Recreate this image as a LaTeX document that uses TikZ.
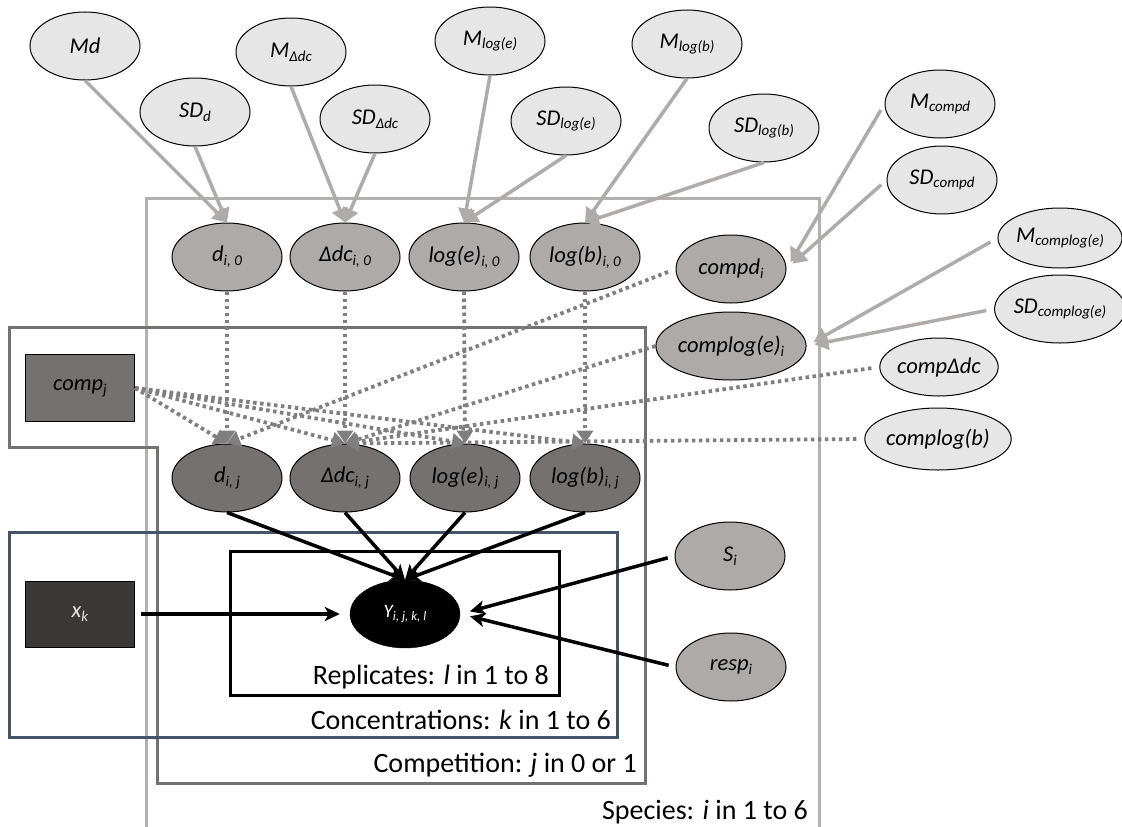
\documentclass[tikz,border=0pt]{standalone}
\usepackage{fontspec}
\setmainfont{Carlito}
\usepackage{tikz}
\usetikzlibrary{arrows.meta, positioning, shapes.geometric}
\definecolor{priorfill}{HTML}{E7E6E6}
\definecolor{paramfill}{HTML}{AEAAAA}
\definecolor{efffill}{HTML}{767171}
\definecolor{datafill}{HTML}{3B3838}
\definecolor{hypergray}{HTML}{AFABAB}
\definecolor{linkgray}{HTML}{7F7F7F}
\definecolor{speciesline}{HTML}{B4B0B0}
\definecolor{compline}{HTML}{767171}
\definecolor{concline}{HTML}{44546A}
\newcommand{\lblfont}{\fontsize{22.5}{24}\selectfont\itshape}
\newcommand{\lsub}[1]{\raisebox{-0.35ex}{\fontsize{15}{16}\selectfont #1}}
\tikzset{
    priornode/.style={
        ellipse, draw=black, line width=1pt, fill=priorfill,
        minimum width=110pt, minimum height=68pt, inner sep=0pt,
        font=\lblfont
    },
    paramnode/.style={
        priornode, fill=paramfill
    },
    effnode/.style={
        priornode, fill=efffill
    },
    datanode/.style={
        rectangle, draw=black, line width=1pt, fill=#1,
        minimum width=109pt, minimum height=67pt, font=\lblfont
    },
    obsnode/.style={
        ellipse, draw=black, fill=black, text=white,
        minimum width=110pt, minimum height=68pt, inner sep=0pt,
        font=\fontsize{19}{21}\selectfont\itshape
    },
    platelab/.style={
        font=\fontsize{28}{30}\selectfont, inner sep=0pt, anchor=east
    },
    hyperarrow/.style={
        -{Triangle[length=14pt, width=16pt]}, line width=3.5pt, color=hypergray
    },
    linkarrow/.style={
        -{Triangle[length=13pt, width=16pt]}, line width=3.8pt, color=linkgray,
        dash pattern=on 3.5pt off 3.5pt
    },
    obsarrow/.style={
        -{Stealth[length=15pt, width=14pt, inset=4pt]}, line width=3.5pt, color=black
    },
}

\begin{document}
\begin{tikzpicture}[x=1pt, y=-1pt]
    \useasboundingbox (0,0) rectangle (1122,827);

    % plates
    \draw[speciesline, line width=3pt] (146,827) -- (146,198) -- (819,198) -- (819,827);
    \draw[compline, line width=3pt] (9,327) -- (645,327) -- (645,783) -- (157,783) -- (157,447) -- (9,447) -- cycle;
    \draw[concline, line width=3pt] (9,532) rectangle (617,737);
    \draw[black, line width=3pt] (230,551) rectangle (559,695);

    \node[platelab] (replab) at (549,677) {Replicates: \textit{l} in 1 to 8};
    \node[platelab] (conclab) at (611,720) {Concentrations: \textit{k} in 1 to 6};
    \node[platelab] (complab) at (637,765) {Competition: \textit{j} in 0 or 1};
    \node[platelab] (specieslab) at (808,812) {Species: \textit{i} in 1 to 6};

    % hyperpriors
    \node[priornode] (md) at (85,46) {Md};
    \node[priornode] (sdd) at (195,112) {SD\lsub{d}};
    \node[priornode] (mdc) at (291,52) {M\lsub{Δdc}};
    \node[priornode] (sddc) at (375,119) {SD\lsub{Δdc}};
    \node[priornode] (mloge) at (490,41) {M\lsub{log(e)}};
    \node[priornode] (sdloge) at (566,121) {SD\lsub{log(e)}};
    \node[priornode] (mlogb) at (687,44) {M\lsub{log(b)}};
    \node[priornode] (sdlogb) at (764,128) {SD\lsub{log(b)}};
    \node[priornode] (mcompd) at (940,104) {M\lsub{compd}};
    \node[priornode] (sdcompd) at (942,180) {SD\lsub{compd}};
    \node[priornode, minimum height=60pt] (mcomploge) at (1060,238) {M\lsub{complog(e)}};
    \node[priornode] (sdcomploge) at (1060,309) {SD\lsub{complog(e)}};
    \node[priornode, minimum width=108pt, minimum height=58pt] (compdc) at (939,367) {compΔdc};
    \node[priornode, minimum width=108pt, minimum height=62pt] (complogb) at (938,439) {complog(b)};

    % species parameters
    \node[paramnode] (dzero) at (227,257) {d\lsub{i, 0}};
    \node[paramnode, right=7pt of dzero] (dczero) {Δdc\lsub{i, 0}};
    \node[paramnode, right=8pt of dczero] (logezero) {log(e)\lsub{i, 0}};
    \node[paramnode, right=10pt of logezero] (logbzero) {log(b)\lsub{i, 0}};
    \node[paramnode] (compd) at (731,269) {compd\lsub{i}};
    \node[paramnode] (comploge) at (731,346) {complog(e)\lsub{i}};
    \node[paramnode] (si) at (730,556) {S\lsub{i}};
    \node[paramnode] (respi) at (731,667) {resp\lsub{i}};

    % competition effects
    \node[effnode] (dij) at (227,478) {d\lsub{i, j}};
    \node[effnode, right=7pt of dij] (dcij) {Δdc\lsub{i, j}};
    \node[effnode, right=9pt of dcij] (logeij) {log(e)\lsub{i, j}};
    \node[effnode, right=9pt of logeij] (logbij) {log(b)\lsub{i, j}};

    \node[datanode=efffill] (compj) at (80,388) {comp\lsub{j}};
    \node[datanode=datafill, text=priorfill, minimum height=66pt] (xk) at (80,614) {x\lsub{k}};
    \node[obsnode] (yobs) at (405,614) {Y\raisebox{-0.35ex}{\fontsize{13}{14}\selectfont i, j, k, l}};

    % hyperprior arrows
    \draw[hyperarrow] (md.south) -- (dzero.north);
    \draw[hyperarrow] (sdd.south) -- (dzero.north);
    \draw[hyperarrow] (mdc.south) -- (dczero.north);
    \draw[hyperarrow] (sddc.south) -- (dczero.north);
    \draw[hyperarrow] (mloge.south) -- (logezero.north);
    \draw[hyperarrow] (sdloge.south) -- (logezero.north);
    \draw[hyperarrow] (mlogb.south) -- (logbzero.north);
    \draw[hyperarrow] (sdlogb.south) -- (logbzero.north);
    \draw[hyperarrow, shorten <=7pt, shorten >=8pt] (mcompd.west) -- (compd.east);
    \draw[hyperarrow, shorten <=7pt, shorten >=8pt] (sdcompd.west) -- (compd.east);
    \draw[hyperarrow, shorten <=8pt, shorten >=8pt] (mcomploge.west) -- (comploge.east);
    \draw[hyperarrow, shorten <=8pt, shorten >=8pt] (sdcomploge.west) -- (comploge.east);

    % competition links
    \draw[linkarrow] (dzero.south) -- (dij.north);
    \draw[linkarrow] (dczero.south) -- (dcij.north);
    \draw[linkarrow] (logezero.south) -- (logeij.north);
    \draw[linkarrow] (logbzero.south) -- (logbij.north);
    \draw[linkarrow] (compj.east) -- (dij.north);
    \draw[linkarrow] (compj.east) -- (dcij.north);
    \draw[linkarrow] (compj.east) -- (logeij.north);
    \draw[linkarrow] (compj.east) -- (logbij.north);
    \draw[linkarrow, shorten <=8pt] (compd.west) -- (dij.north);
    \draw[linkarrow] (comploge.west) -- (dcij.north);
    \draw[linkarrow, shorten <=8pt] (compdc.west) -- (dcij.north);
    \draw[linkarrow, shorten <=8pt] (complogb.west) -- (dcij.north);

    % likelihood
    \draw[obsarrow] (dij.south) -- (yobs.north);
    \draw[obsarrow] (dcij.south) -- (yobs.north);
    \draw[obsarrow] (logeij.south) -- (yobs.north);
    \draw[obsarrow] (logbij.south) -- (yobs.north);
    \draw[obsarrow, shorten <=6pt, shorten >=10pt] (xk.east) -- (yobs.west);
    \draw[obsarrow, shorten <=7pt, shorten >=10pt] (si.west) -- (yobs.east);
    \draw[obsarrow, shorten <=7pt, shorten >=10pt] (respi.west) -- (yobs.east);
\end{tikzpicture}
\end{document}
